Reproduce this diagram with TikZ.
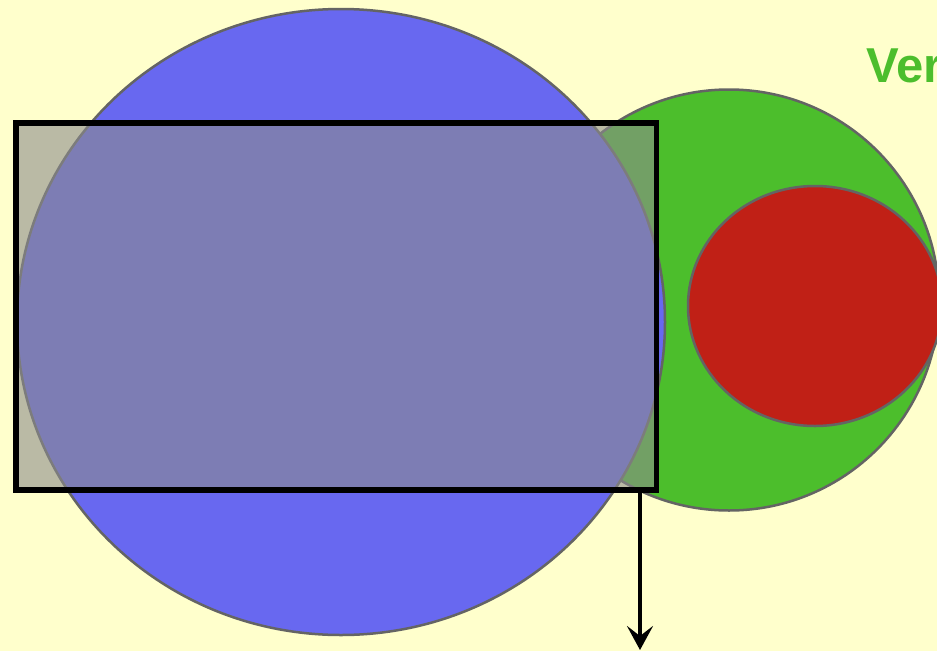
\documentclass[tikz,border=0pt]{standalone}
\usepackage{fontspec}
\setmainfont{Liberation Sans}
\usetikzlibrary{shapes.geometric,arrows.meta}
\definecolor{bgyellow}{RGB}{255,255,204}
\definecolor{vgreen}{RGB}{76,190,44}
\definecolor{vred}{RGB}{192,32,22}
\definecolor{vblue}{RGB}{104,104,240}
\definecolor{vedge}{RGB}{100,100,100}
\definecolor{rgray}{RGB}{140,140,140}
\tikzset{
  blob/.style={ellipse, draw=vedge, line width=2.5pt, inner sep=0pt},
  frame/.style={rectangle, draw=black, line width=5.5pt, fill=rgray, fill opacity=0.6, inner sep=0pt},
  pointer/.style={line width=3.5pt, -{Stealth[length=24pt,width=26pt,inset=10pt]}}
}
\begin{document}
\begin{tikzpicture}[x=1pt,y=-1pt]
\useasboundingbox (0,0) rectangle (937,651);
\clip (0,0) rectangle (937,651);
\fill[bgyellow] (0,0) rectangle (937,651);
\node[blob, fill=vgreen, minimum width=420pt, minimum height=421pt] (green) at (729,300) {};
\node[blob, fill=vred, minimum width=254pt, minimum height=240pt] (red) at (815,306) {};
\node[blob, fill=vblue, minimum width=648pt, minimum height=626pt] (blue) at (341,322) {};
\node[frame, minimum width=640.5pt, minimum height=367pt] (rect) at (336.25,306.5) {};
\coordinate (a1) at (640,493);
\coordinate (a2) at (640,650);
\draw[pointer] (a1) -- (a2);
\node[anchor=base west, text=vgreen, inner sep=0pt, font=\fontsize{49}{58}\selectfont\bfseries] (title) at (866,82) {Ver};
\end{tikzpicture}
\end{document}
